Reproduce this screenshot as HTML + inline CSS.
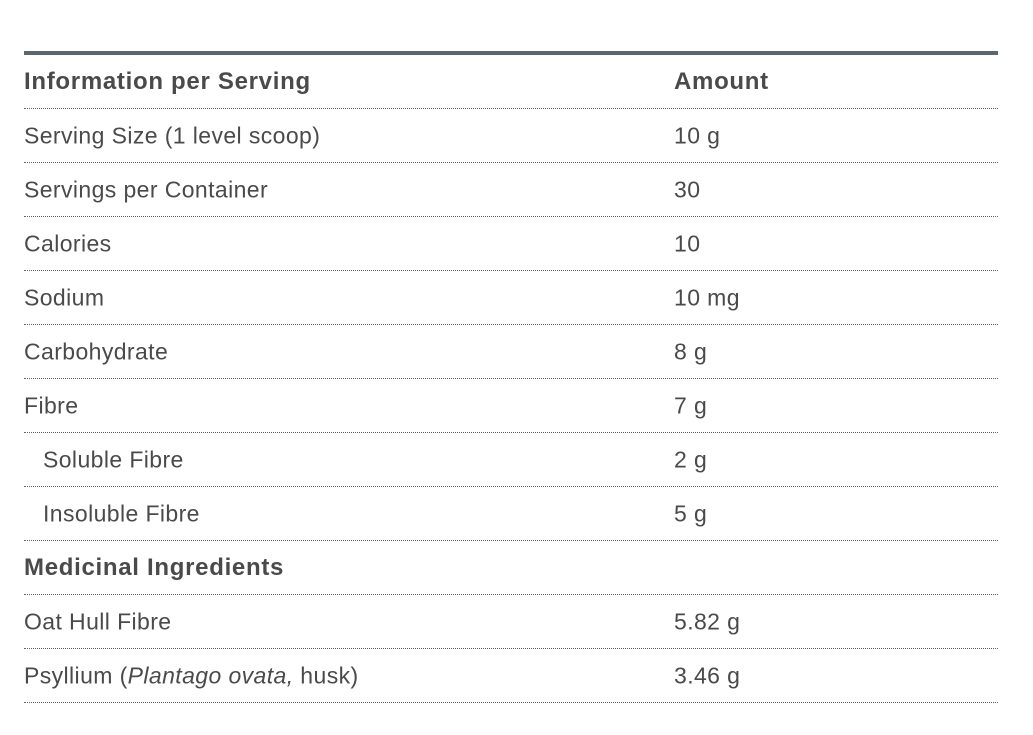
<!DOCTYPE html>
<html><head><style>
body{margin:0;width:1033px;height:735px;background:#fff;font-family:"Liberation Sans",sans-serif;color:#4a4a4a;position:relative;overflow:hidden}
.bar{position:absolute;left:24px;top:51px;width:974px;height:4px;background:#5b666f}
.row{position:absolute;left:24px;width:974px;height:53px;border-bottom:1px dotted #5b666f;font-size:23px;letter-spacing:0.4px}
.row span{position:absolute;top:50%;transform:translateY(-50%);white-space:nowrap}
.a{left:650px}
.b{font-weight:bold;font-size:24px;letter-spacing:0.7px}
.in{left:19px}
</style></head><body>
<div class="bar"></div>
<div class="row b" style="top:55px"><span style="left:0">Information per Serving</span><span class="a">Amount</span></div>
<div class="row" style="top:109px"><span style="left:0">Serving Size (1 level scoop)</span><span class="a">10 g</span></div>
<div class="row" style="top:163px"><span style="left:0">Servings per Container</span><span class="a">30</span></div>
<div class="row" style="top:217px"><span style="left:0">Calories</span><span class="a">10</span></div>
<div class="row" style="top:271px"><span style="left:0">Sodium</span><span class="a">10 mg</span></div>
<div class="row" style="top:325px"><span style="left:0">Carbohydrate</span><span class="a">8 g</span></div>
<div class="row" style="top:379px"><span style="left:0">Fibre</span><span class="a">7 g</span></div>
<div class="row" style="top:433px"><span class="in">Soluble Fibre</span><span class="a">2 g</span></div>
<div class="row" style="top:487px"><span class="in">Insoluble Fibre</span><span class="a">5 g</span></div>
<div class="row b" style="top:541px"><span style="left:0">Medicinal Ingredients</span></div>
<div class="row" style="top:595px"><span style="left:0">Oat Hull Fibre</span><span class="a">5.82 g</span></div>
<div class="row" style="top:649px"><span style="left:0">Psyllium (<i>Plantago ovata,</i> husk)</span><span class="a">3.46 g</span></div>
</body></html>
